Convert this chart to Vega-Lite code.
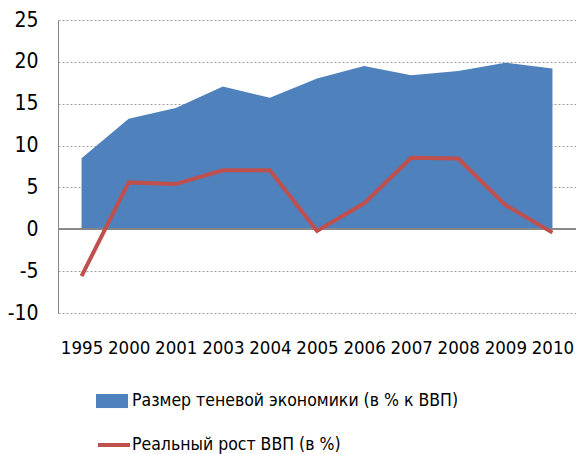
{
  "$schema": "https://vega.github.io/schema/vega-lite/v6.json",
  "width": 518,
  "height": 293,
  "autosize": {"type": "none"},
  "padding": {"left": 58, "top": 20, "right": 0, "bottom": 141},
  "background": "white",
  "config": {
    "view": {"stroke": null},
    "font": "DejaVu Sans Condensed"
  },
  "data": {
    "values": [
      {"year": "1995", "shadow": 8.5, "growth": -5.6},
      {"year": "2000", "shadow": 13.2, "growth": 5.6},
      {"year": "2001", "shadow": 14.5, "growth": 5.4},
      {"year": "2003", "shadow": 17.05, "growth": 7.05},
      {"year": "2004", "shadow": 15.7, "growth": 7.05},
      {"year": "2005", "shadow": 18.0, "growth": -0.2},
      {"year": "2006", "shadow": 19.5, "growth": 3.1},
      {"year": "2007", "shadow": 18.4, "growth": 8.55},
      {"year": "2008", "shadow": 18.9, "growth": 8.45},
      {"year": "2009", "shadow": 19.9, "growth": 2.9},
      {"year": "2010", "shadow": 19.2, "growth": -0.4}
    ]
  },
  "layer": [
    {
      "mark": {"type": "area", "opacity": 1},
      "transform": [{"calculate": "'Размер теневой экономики (в % к ВВП)'", "as": "s1"}],
      "encoding": {
        "x": {
          "field": "year", "type": "ordinal",
          "scale": {"type": "point", "padding": 0.5},
          "axis": {"title": null, "domain": false, "ticks": false, "labelAngle": 0, "labelPadding": 25, "labelFontSize": 18.5, "labelColor": "#000", "grid": false}
        },
        "y": {
          "field": "shadow", "type": "quantitative",
          "scale": {"domain": [-10, 25], "nice": false},
          "axis": {"title": null, "values": [-10, -5, 0, 5, 10, 15, 20, 25], "labelExpr": "replace(datum.label, '−', '-')", "ticks": false, "labelPadding": 20, "labelFontSize": 21, "labelColor": "#000", "domainColor": "#868686", "domainWidth": 1, "gridDash": [2, 2], "gridColor": "#a0a0a0", "gridWidth": 1.2}
        },
        "fill": {
          "field": "s1", "type": "nominal",
          "scale": {"range": ["#4F81BD"]},
          "legend": {"title": null, "orient": "none", "legendX": 38, "legendY": 365, "symbolType": "M-1,-0.44H1V0.44H-1Z", "symbolSize": 1024, "symbolStrokeWidth": 0, "labelFontSize": 17.5, "labelColor": "#000", "labelOffset": 4, "labelLimit": 1000, "symbolOpacity": 1}
        }
      }
    },
    {
      "mark": {"type": "rule", "color": "#868686", "strokeWidth": 1.2},
      "encoding": {"y": {"datum": 0}}
    },
    {
      "mark": {"type": "line", "strokeWidth": 4},
      "transform": [{"calculate": "'Реальный рост ВВП (в %)'", "as": "s2"}],
      "encoding": {
        "x": {"field": "year", "type": "ordinal"},
        "y": {"field": "growth", "type": "quantitative"},
        "stroke": {
          "field": "s2", "type": "nominal",
          "scale": {"range": ["#C0504D"]},
          "legend": {"title": null, "orient": "none", "legendX": 38, "legendY": 407, "symbolType": "M-1,0H1", "symbolSize": 1024, "symbolStrokeWidth": 4, "labelFontSize": 17.5, "labelColor": "#000", "labelOffset": 0, "labelLimit": 1000}
        }
      }
    }
  ]
}
